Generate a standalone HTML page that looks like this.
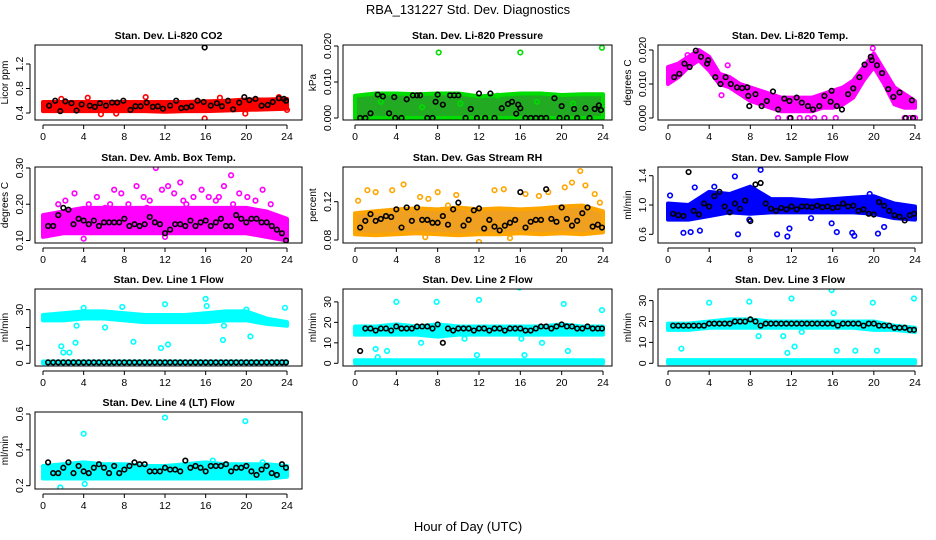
<!DOCTYPE html>
<html><head><meta charset="utf-8">
<style>
html,body{margin:0;padding:0;background:#fff;}
svg{display:block;font-family:"Liberation Sans",sans-serif;}
</style></head>
<body>
<svg id="c" width="936" height="540" viewBox="0 0 936 540" xmlns="http://www.w3.org/2000/svg">
<text x="468" y="14" text-anchor="middle" font-size="13">RBA_131227  Std. Dev. Diagnostics</text>
<text x="468" y="531" text-anchor="middle" font-size="13">Hour of Day (UTC)</text>
</svg>
<script>
// shared band hours
const bandHours = [0,2,4,6,8,10,12,14,16,18,20,22,24];
const tempHours = [0,1,2,3,4,5,6,7,8,9,10,11,12,13,14,15,16,17,18,19,20,21,22,23,24];
const halfHours = [0.5,1,1.5,2,2.5,3,3.5,4,4.5,5,5.5,6,6.5,7,7.5,8,8.5,9,9.5,10,10.5,11,11.5,12,12.5,13,13.5,14,14.5,15,15.5,16,16.5,17,17.5,18,18.5,19,19.5,20,20.5,21,21.5,22,22.5,23,23.5,23.9];

// CO2
const co2Lo = [0.43,0.43,0.43,0.43,0.43,0.43,0.42,0.43,0.43,0.44,0.45,0.46,0.47];
const co2Hi = [0.58,0.58,0.58,0.58,0.58,0.58,0.58,0.58,0.59,0.6,0.62,0.62,0.63];
const co2OutX = [1.8,4.4,5.7,7.2,10.1,15.9,17.4,19.9,23.2,24];
const co2OutY = [0.63,0.65,0.38,0.39,0.66,0.31,0.65,0.39,0.66,0.45];
const co2BlkX = [0.6,1.2,1.7,2.2,2.8,3.3,3.8,4.6,5.1,5.6,6.2,6.8,7.3,7.9,8.6,9.1,9.6,10.2,10.8,11.3,11.8,12.5,13.1,13.6,14.1,14.6,15.2,15.8,15.9,16.5,17.1,17.6,18.2,18.7,19.3,19.8,20.3,20.9,21.5,22.1,22.6,23.2,23.7,23.9];
const co2BlkY = [0.52,0.6,0.43,0.59,0.56,0.44,0.54,0.52,0.5,0.56,0.52,0.57,0.57,0.6,0.45,0.51,0.51,0.57,0.5,0.51,0.47,0.52,0.6,0.48,0.49,0.51,0.6,0.58,1.47,0.52,0.56,0.51,0.6,0.46,0.57,0.66,0.61,0.63,0.52,0.53,0.58,0.64,0.63,0.6];

// Pressure
const prLo = [0,0,0,0,0,0,0,0,0,0,0,0,0];
const prHi = [0.0062,0.0068,0.0068,0.0066,0.0068,0.0068,0.006,0.0064,0.0068,0.0068,0.0064,0.0066,0.0066];
const prOutX = [8.1,16,23.9,2.5,6.5,10.2,13.8,17.6,21.1];
const prOutY = [0.0182,0.0182,0.0195,0.0045,0.003,0.004,0.0062,0.0045,0.004];
const prBlkX = [0.5,1,1.5,2.2,2.7,3.3,3.8,3.9,4.5,5,5.6,6,6.3,7,7.5,7.8,8,8.5,9.2,9.6,10,10.7,11.2,11.8,12,12.6,13.1,13.5,14.2,14.8,15.2,15.6,15.8,16,16.5,17,17.5,18,18.5,19.3,19.8,20,20.5,21.2,21.5,22.3,22.7,23.2,23.6,23.8];
const prBlkY = [0,0,0.0013,0.0065,0.006,0.0013,0.0058,0,0,0.0052,0.0063,0.0063,0.0063,0,0,0.0045,0.0065,0.0037,0.0063,0.0063,0.0063,0,0.0025,0,0.0068,0,0.0068,0,0.0027,0.0039,0.0045,0.0012,0.0037,0.0027,0,0,0,0,0,0.0055,0,0.0033,0,0.0025,0,0.0027,0,0.0025,0.0035,0.0022];

// Li-820 temperature
const tLo = [0.010,0.012,0.015,0.017,0.014,0.010,0.009,0.007,0.005,0.004,0.003,0.002,0.002,0.002,0.002,0.003,0.003,0.004,0.006,0.011,0.015,0.010,0.004,0.003,0.003];
const tHi = [0.015,0.016,0.018,0.020,0.018,0.013,0.012,0.010,0.009,0.008,0.007,0.006,0.006,0.006,0.006,0.007,0.008,0.009,0.011,0.015,0.019,0.014,0.009,0.007,0.005];
const tOutX = [10.7,11.8,12.8,13.6,14.2,15.2,16.3,23,23.5,24,5.8,1.9,5.2,19.9];
const tOutY = [0,0,0,0,0,0,0,0,0,0,0.0155,0.0185,0.0067,0.0205];
const tBlkX = [0.6,1.1,1.6,2.1,2.7,3.2,3.8,3.9,4.6,5.1,5.6,6.1,6.7,7.2,7.7,7.8,7.9,8.5,9.1,9.6,10.2,10.7,11.3,11.8,11.9,12.5,13.0,13.6,14.1,14.7,15.2,15.8,15.9,16.4,16.9,17.5,18.0,18.6,19.1,19.7,19.8,20.3,20.8,21.4,21.9,22.5,23.1,23.7,23.8];
const tBlkY = [0.012,0.013,0.016,0.015,0.0198,0.018,0.016,0.017,0.012,0.010,0.012,0.010,0.009,0.0088,0.009,0.0065,0.0035,0.007,0.0035,0.005,0.0078,0.0025,0.0057,0.005,0,0.006,0.0045,0.0035,0.0025,0.0035,0.0065,0.0048,0.008,0.0035,0.0025,0.007,0.0087,0.012,0.0157,0.018,0.017,0.0155,0.0132,0.0085,0.0062,0.0075,0,0.0052,0];

// Amb box temp
const abLo = [0.11,0.12,0.12,0.12,0.12,0.12,0.12,0.12,0.12,0.12,0.12,0.11,0.1];
const abHi = [0.17,0.18,0.19,0.19,0.19,0.19,0.19,0.19,0.19,0.19,0.19,0.18,0.16];
const abOutX = [2.2,3.1,4.5,5.3,6.1,7.0,7.7,8.4,9.2,9.9,10.5,11.1,11.7,12.3,12.9,13.5,14.1,14.8,15.6,16.3,17.0,17.8,18.5,19.3,20.1,20.9,21.6,22.4,1.5,6.6,10.2,13.8,17.3,18.7,4.0,12.0];
const abOutY = [0.21,0.23,0.20,0.22,0.19,0.24,0.23,0.20,0.25,0.22,0.21,0.30,0.24,0.25,0.23,0.26,0.20,0.22,0.24,0.22,0.21,0.25,0.28,0.23,0.22,0.21,0.24,0.2,0.20,0.2,0.19,0.21,0.22,0.20,0.105,0.11];
const abBlkY = [0.14,0.14,0.17,0.19,0.185,0.145,0.16,0.155,0.145,0.155,0.14,0.15,0.15,0.15,0.15,0.16,0.14,0.145,0.14,0.145,0.165,0.15,0.145,0.12,0.13,0.145,0.145,0.14,0.155,0.14,0.15,0.155,0.14,0.15,0.16,0.14,0.14,0.17,0.16,0.15,0.16,0.16,0.15,0.15,0.14,0.13,0.12,0.10];

// Gas stream RH
const rhLo = [0.086,0.085,0.086,0.087,0.086,0.085,0.086,0.086,0.087,0.086,0.087,0.086,0.088];
const rhHi = [0.108,0.11,0.112,0.113,0.112,0.114,0.112,0.113,0.112,0.113,0.115,0.116,0.11];
const rhOutX = [0.3,1.2,2.0,3.6,4.7,6.3,7.1,8.0,9.0,9.8,11.1,12.0,13.5,14.4,16.5,17.8,18.7,20.3,21.0,21.8,22.3,23.2,23.7,6.8,15.0];
const rhOutY = [0.121,0.132,0.13,0.132,0.138,0.125,0.123,0.13,0.116,0.127,0.11,0.078,0.132,0.133,0.128,0.126,0.13,0.135,0.14,0.152,0.137,0.128,0.119,0.083,0.082];
const rhBlkY = [0.093,0.1,0.107,0.1,0.102,0.105,0.104,0.112,0.093,0.114,0.1,0.114,0.101,0.101,0.098,0.098,0.105,0.096,0.112,0.119,0.095,0.101,0.111,0.113,0.092,0.101,0.094,0.09,0.095,0.098,0.101,0.13,0.093,0.099,0.101,0.101,0.133,0.102,0.099,0.114,0.102,0.095,0.1,0.108,0.114,0.094,0.096,0.093];

// Sample flow
const sfLo = [0.8,0.8,0.85,0.9,0.88,0.9,0.9,0.9,0.9,0.9,0.88,0.82,0.8];
const sfHi = [1.02,1.0,1.18,1.15,1.25,1.08,1.08,1.06,1.08,1.1,1.12,1.02,0.98];
const sfOutX = [0.2,1.5,2.2,2.6,3.1,4.5,5.3,6.5,6.8,7.5,9.0,10.6,11.6,11.8,13.9,15.9,16.4,17.9,18.1,20.4,21.0,7.9,19.6];
const sfOutY = [1.13,0.62,0.63,1.24,0.65,1.25,1.06,1.39,0.6,1.19,1.48,0.6,0.57,0.68,0.82,0.75,0.63,0.62,0.58,0.61,0.7,0.8,1.15];
const sfBlkY = [0.88,0.86,0.85,1.45,0.92,0.87,1.02,0.98,1.12,1.18,0.98,0.9,1.02,0.95,1.06,0.78,1.28,1.3,1.02,0.95,0.92,0.96,0.94,0.98,0.94,0.98,0.98,0.97,0.99,0.97,0.98,0.96,0.97,1.02,0.98,0.99,0.92,0.94,0.88,0.87,1.04,0.99,0.92,0.86,0.84,0.79,0.86,0.88];

// Line 1 flow
const l1Lo = [24,24,25,25,24,23,23,23,23,24,24,22,21];
const l1Hi = [27,28,29,29,28,27,27,27,28,29,29,25,23];
const l1BotLo = [0,0,0,0,0,0,0,0,0,0,0,0,0];
const l1BotHi = [1,1,1,1,1,1,1,1,1,1,1,1,1];
const l1OutX = [1.8,2.0,2.6,3.2,3.3,4.0,6.1,6.3,7.8,8.9,11.6,12.0,12.3,16.0,16.1,17.7,17.8,20.4,23.8,20.0];
const l1OutY = [9.5,6,6,11.5,21,31,20,27,31.5,12,8.5,33,10.5,36,32,13,21,15,31,30];
const l1BlkY = [0.5,0.5,0.5,0.5,0.5,0.5,0.5,0.5,0.5,0.5,0.5,0.5,0.5,0.5,0.5,0.5,0.5,0.5,0.5,0.5,0.5,0.5,0.5,0.5,0.5,0.5,0.5,0.5,0.5,0.5,0.5,0.5,0.5,0.5,0.5,0.5,0.5,0.5,0.5,0.5,0.5,0.5,0.5,0.5,0.5,0.5,0.5,0.5];

// Line 2 flow
const l2Lo = [14,14,14,14,13,14,14,14,14,14,14,14,14];
const l2Hi = [18,18,19,18,19,18,18,18,18,18,19,18,18];
const l2OutX = [2.0,2.2,3.1,4.0,6.4,7.9,10.6,12.0,15.9,16.1,16.4,18.1,20.2,20.6,23.9,11.8];
const l2OutY = [7,3,6,30,10,30,12,31,37,12,4,10,29,6,26,4];
const l2BlkY = [6,17,17,16,17,17,16,18,17,17,17,18,18,18,17,19,10,17,16,17,17,17,16,17,17,16,17,17,16,17,17,17,16,16,17,18,18,17,18,19,18,18,17,17,18,17,17,17];
const l2BotLo = [0,0,0,0,0,0,0,0,0,0,0,0,0];
const l2BotHi = [1.5,1.5,1.5,1.5,1.5,1.5,1.5,1.5,1.5,1.5,1.5,1.5,1.5];

// Line 3 flow
const l3Lo = [16,16,17,17,17,17,17,17,17,17,16,16,15];
const l3Hi = [19,19,20,21,21,20,20,20,20,20,20,18,17];
const l3OutX = [1.3,4.0,7.9,8.8,11.2,11.6,12.0,12.3,13.0,15.9,16.1,16.4,18.2,19.9,20.3,23.9];
const l3OutY = [7,29,29.5,13,13,5,31,8,15,35,24,6,6,29,6,31];
const l3BlkY = [18,18,18,18,18,18,18,19,19,19,19,19,20,20,20,21,20,18,19,19,19,19,19,19,19,19,19,19,19,19,19,19,18,19,19,19,19,18,19,19,18,18,18,17,17,17,16,16];
const l3BotLo = [0,0,0,0,0,0,0,0,0,0,0,0,0];
const l3BotHi = [1.5,1.5,1.5,1.5,1.5,1.5,1.5,1.5,1.5,1.5,1.5,1.5,1.5];

// Line 4 flow
const l4Lo = [0.24,0.24,0.24,0.24,0.24,0.24,0.24,0.24,0.24,0.24,0.24,0.24,0.25];
const l4Hi = [0.31,0.32,0.33,0.32,0.32,0.31,0.31,0.32,0.33,0.32,0.32,0.32,0.31];
const l4OutX = [1.7,4.0,4.1,12.0,19.9,16.7,21.6];
const l4OutY = [0.19,0.49,0.21,0.58,0.56,0.34,0.33];
const l4BlkY = [0.33,0.27,0.27,0.3,0.33,0.27,0.31,0.28,0.27,0.3,0.32,0.3,0.27,0.31,0.27,0.29,0.31,0.33,0.32,0.32,0.28,0.28,0.28,0.3,0.29,0.29,0.28,0.34,0.3,0.31,0.3,0.28,0.31,0.31,0.31,0.32,0.28,0.3,0.3,0.31,0.28,0.26,0.29,0.31,0.27,0.26,0.32,0.3];

const svg = document.getElementById('c');
const NS = 'http://www.w3.org/2000/svg';
const cols = [{l:35,r:302,x0:43,x24:287},{l:343,r:612,x0:355,x24:603},{l:658,r:922,x0:668,x24:915}];
const rows = [{t:45,b:120},{t:167,b:243},{t:289,b:366},{t:412,b:489}];
const xTicks = [0,4,8,12,16,20,24];

function mk(tag, attrs, parent){
  const e = document.createElementNS(NS, tag);
  for (const k in attrs) e.setAttribute(k, attrs[k]);
  (parent||svg).appendChild(e);
  return e;
}

function panel(cfg){
  const c = cols[cfg.col], r = rows[cfg.row];
  const g = mk('g', {});
  
  
  const xs = h => c.x0 + h * (c.x24 - c.x0) / 24;
  const ys = v => cfg.p1 + (v - cfg.v1) * (cfg.p2 - cfg.p1) / (cfg.v2 - cfg.v1);
  const clipId = 'clip-' + cfg.name;
  const cp = mk('clipPath', {id: clipId}, g);
  mk('rect', {x:c.l, y:r.t, width:c.r-c.l, height:r.b-r.t}, cp);
  const data = mk('g', {'clip-path':'url(#'+clipId+')'}, g);
  (cfg.bands||[]).forEach(bd => {
    let pts = bd.h.map((h,i)=>xs(h)+','+ys(bd.hi[i]));
    pts = pts.concat(bd.h.map((h,i)=>xs(h)+','+ys(bd.lo[i])).reverse());
    const p = mk('polygon', {points:pts.join(' '), fill:cfg.fill||cfg.color, stroke:cfg.color, 'stroke-width':4, 'stroke-linejoin':'round'}, data);
    
    
  });
  cfg.ox.forEach((x,i) => {
    const e = mk('circle', {cx:xs(x), cy:ys(cfg.oy[i]), r:2.3, fill:'none', stroke:cfg.color, 'stroke-width':1.6}, data);
    
    
  });
  cfg.bx.forEach((x,i) => {
    const e = mk('circle', {cx:xs(x), cy:ys(cfg.by[i]), r:2.3, fill:'none', stroke:'#000', 'stroke-width':1.6}, data);
    
    
  });
  const box = mk('rect', {x:c.l, y:r.t, width:c.r-c.l, height:r.b-r.t, fill:'none', stroke:'#000', 'stroke-width':1}, g);
  
  
  const tt = mk('text', {x:(c.l+c.r)/2, y:r.t-6, 'text-anchor':'middle', 'font-size':10.5, 'font-weight':'bold'}, g);
  tt.textContent = cfg.title;
  
  
  const xa = mk('g', {}, g);
  
  
  mk('line', {x1:xs(0), x2:xs(24), y1:r.b+5, y2:r.b+5, stroke:'#000'}, xa);
  xTicks.forEach(h => {
    mk('line', {x1:xs(h), x2:xs(h), y1:r.b+5, y2:r.b+9, stroke:'#000'}, xa);
    const t = mk('text', {x:xs(h), y:r.b+20, 'text-anchor':'middle', 'font-size':10.5}, xa);
    t.textContent = h;
  });
  const ya = mk('g', {}, g);
  
  
  const yt = cfg.ticks;
  mk('line', {x1:c.l-5, x2:c.l-5, y1:ys(yt[0]), y2:ys(yt[yt.length-1]), stroke:'#000'}, ya);
  yt.forEach((v,i) => {
    mk('line', {x1:c.l-9, x2:c.l-5, y1:ys(v), y2:ys(v), stroke:'#000'}, ya);
    if (cfg.labels[i] !== '') {
      const t = mk('text', {x:c.l-12, y:ys(v), 'text-anchor':'middle', 'font-size':10.5, transform:'rotate(-90 '+(c.l-12)+' '+ys(v)+')'}, ya);
      t.textContent = cfg.labels[i];
    }
  });
  const yl = mk('text', {x:c.l-27, y:(r.t+r.b)/2, 'text-anchor':'middle', 'font-size':10, transform:'rotate(-90 '+(c.l-27)+' '+((r.t+r.b)/2)+')'}, ya);
  yl.textContent = cfg.ylab;
  
  
}

panel({name:'panel-co2', col:0,row:0,title:'Stan. Dev. Li-820 CO2',ylab:'Licor ppm',color:'#ff0000',
  v1:0.4,p1:113,v2:1.2,p2:64,ticks:[0.4,0.8,1.2],labels:['0.4','0.8','1.2'],
  bands:[{h:bandHours,lo:co2Lo,hi:co2Hi}],ox:co2OutX,oy:co2OutY,bx:co2BlkX,by:co2BlkY});
panel({name:'panel-pressure', col:1,row:0,title:'Stan. Dev. Li-820 Pressure',ylab:'kPa',color:'#00dd00',fill:'#22aa22',
  v1:0,p1:118,v2:0.02,p2:46,ticks:[0,0.01,0.02],labels:['0.000','0.010','0.020'],
  bands:[{h:bandHours,lo:prLo,hi:prHi}],ox:prOutX,oy:prOutY,bx:prBlkX,by:prBlkY});
panel({name:'panel-li820-temp', col:2,row:0,title:'Stan. Dev. Li-820 Temp.',ylab:'degrees C',color:'#ff00ff',
  v1:0,p1:118,v2:0.02,p2:50,ticks:[0,0.01,0.02],labels:['0.000','0.010','0.020'],
  bands:[{h:tempHours,lo:tLo,hi:tHi}],ox:tOutX,oy:tOutY,bx:tBlkX,by:tBlkY});
panel({name:'panel-amb-box-temp', col:0,row:1,title:'Stan. Dev. Amb. Box Temp.',ylab:'degrees C',color:'#ff00ff',
  v1:0.1,p1:240.5,v2:0.3,p2:168,ticks:[0.1,0.2,0.3],labels:['0.10','0.20','0.30'],
  bands:[{h:bandHours,lo:abLo,hi:abHi}],ox:abOutX,oy:abOutY,bx:halfHours,by:abBlkY});
panel({name:'panel-gas-rh', col:1,row:1,title:'Stan. Dev. Gas Stream RH',ylab:'percent',color:'#ffa500',fill:'#f0a020',
  v1:0.08,p1:240,v2:0.12,p2:201.7,ticks:[0.08,0.12],labels:['0.08','0.12'],
  bands:[{h:bandHours,lo:rhLo,hi:rhHi}],ox:rhOutX,oy:rhOutY,bx:halfHours,by:rhBlkY});
panel({name:'panel-sample-flow', col:2,row:1,title:'Stan. Dev. Sample Flow',ylab:'ml/min',color:'#0000ff',
  v1:0.6,p1:234.3,v2:1.4,p2:175.7,ticks:[0.6,1.0,1.4],labels:['0.6','1.0','1.4'],
  bands:[{h:bandHours,lo:sfLo,hi:sfHi}],ox:sfOutX,oy:sfOutY,bx:halfHours,by:sfBlkY});
panel({name:'panel-line1-flow', col:0,row:2,title:'Stan. Dev. Line 1 Flow',ylab:'ml/min',color:'#00ffff',
  v1:0,p1:363.3,v2:30,p2:309.6,ticks:[0,10,20,30],labels:['0','10','','30'],
  bands:[{h:bandHours,lo:l1Lo,hi:l1Hi},{h:bandHours,lo:l1BotLo,hi:l1BotHi}],ox:l1OutX,oy:l1OutY,bx:halfHours,by:l1BlkY});
panel({name:'panel-line2-flow', col:1,row:2,title:'Stan. Dev. Line 2 Flow',ylab:'ml/min',color:'#00ffff',
  v1:0,p1:363.3,v2:30,p2:301.9,ticks:[0,10,20,30],labels:['0','10','20','30'],
  bands:[{h:bandHours,lo:l2Lo,hi:l2Hi},{h:bandHours,lo:l2BotLo,hi:l2BotHi}],ox:l2OutX,oy:l2OutY,bx:halfHours,by:l2BlkY});
panel({name:'panel-line3-flow', col:2,row:2,title:'Stan. Dev. Line 3 Flow',ylab:'ml/min',color:'#00ffff',
  v1:0,p1:363.3,v2:30,p2:300.6,ticks:[0,10,20,30],labels:['0','10','20','30'],
  bands:[{h:bandHours,lo:l3Lo,hi:l3Hi},{h:bandHours,lo:l3BotLo,hi:l3BotHi}],ox:l3OutX,oy:l3OutY,bx:halfHours,by:l3BlkY});
panel({name:'panel-line4-flow', col:0,row:3,title:'Stan. Dev. Line 4 (LT) Flow',ylab:'ml/min',color:'#00ffff',
  v1:0.2,p1:485.7,v2:0.6,p2:414,ticks:[0.2,0.4,0.6],labels:['0.2','0.4','0.6'],
  bands:[{h:bandHours,lo:l4Lo,hi:l4Hi}],ox:l4OutX,oy:l4OutY,bx:halfHours,by:l4BlkY});
</script>
</body></html>
